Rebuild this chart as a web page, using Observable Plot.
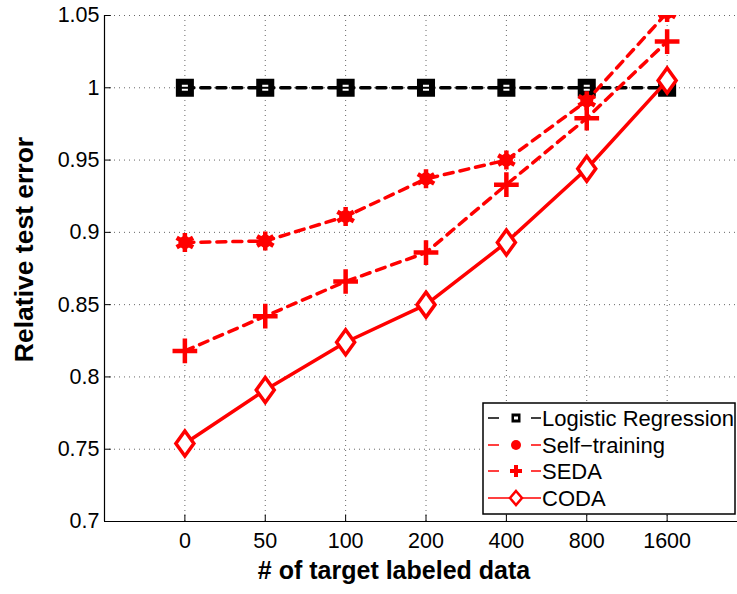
<!DOCTYPE html>
<html><head><meta charset="utf-8">
<script src="https://cdn.jsdelivr.net/npm/d3@7"></script>
<script src="https://cdn.jsdelivr.net/npm/@observablehq/plot@0.6"></script>
<style>body{margin:0;background:#fff} #chart{width:737px;height:594px;overflow:hidden}</style>
</head><body><div id="chart"></div>
<script>
// ---- data ----
const categories = ["0", "50", "100", "200", "400", "800", "1600"];
const logistic = [1, 1, 1, 1, 1, 1, 1];
const selfTraining = [0.893, 0.894, 0.911, 0.937, 0.950, 0.991, 1.052];
const seda = [0.818, 0.842, 0.866, 0.886, 0.933, 0.979, 1.032];
const coda = [0.754, 0.791, 0.824, 0.850, 0.893, 0.944, 1.005];
const yTicks = [0.7, 0.75, 0.8, 0.85, 0.9, 0.95, 1, 1.05];
const seriesNames = ["Logistic Regression", "Self\u2212training", "SEDA", "CODA"];
const yTitle = "Relative test error";
const xTitle = "# of target labeled data";

const idx = categories.map((_, i) => i);
const toRows = vals => vals.map((v, i) => ({i, v}));
const rLog = toRows(logistic), rSelf = toRows(selfTraining), rSeda = toRows(seda), rCoda = toRows(coda);

const tallDiamond = {
  draw(ctx) {
    const w = 9, h = 12.5;
    ctx.moveTo(0, -h); ctx.lineTo(w, 0); ctx.lineTo(0, h); ctx.lineTo(-w, 0); ctx.closePath();
  }
};
const hbar = {
  draw(ctx) { ctx.moveTo(-4, 0); ctx.lineTo(4, 0); }
};

const font = "Liberation Sans, Arial, Helvetica, sans-serif";
const grid = {stroke: "#666", strokeDasharray: "1,4", strokeWidth: 1};

const svg = Plot.plot({
  width: 737, height: 594,
  marginLeft: 104, marginRight: 0, marginTop: 15, marginBottom: 73,
  style: {fontFamily: font, background: "white", color: "black"},
  x: {domain: [-1, 7], range: [104, 747]},
  y: {domain: [0.7, 1.05]},
  marks: [
    Plot.ruleY(yTicks, grid),
    Plot.ruleX(idx, grid),
    Plot.ruleX([-1], {stroke: "black", strokeWidth: 1.2}),
    Plot.ruleY([0.7], {stroke: "black", strokeWidth: 1.2}),
    Plot.ruleY(yTicks, {x1: -1, x2: -1 + 0.085, stroke: "black"}),
    Plot.ruleX(idx, {y1: 0.7, y2: 0.7 + 0.0045, stroke: "black"}),
    Plot.axisY(yTicks, {tickSize: 0, tickPadding: 5, fontSize: 21.5, tickFormat: d => String(d), label: null}),
    Plot.axisX(idx, {tickSize: 0, tickPadding: 11, fontSize: 21.5, tickFormat: i => categories[i], label: null}),
    Plot.text([yTitle], {frameAnchor: "left", textAnchor: "middle", dx: -80, dy: -19, rotate: -90, fontSize: 26.5, fontWeight: "bold"}),
    Plot.text([xTitle], {frameAnchor: "bottom", textAnchor: "middle", dy: 57, dx: -27, fontSize: 25, fontWeight: "bold"}),
    Plot.line(rLog, {x: "i", y: "v", stroke: "black", strokeWidth: 3.5, strokeDasharray: "9,7", clip: true}),
    Plot.dot(rLog, {x: "i", y: "v", symbol: "square", r: 6.8, stroke: "black", strokeWidth: 6, fill: "white", clip: true}),
    Plot.dot(rLog, {x: "i", y: "v", symbol: hbar, r: 5, stroke: "black", strokeWidth: 2, clip: true}),
    Plot.line(rSelf, {x: "i", y: "v", stroke: "red", strokeWidth: 3.5, strokeDasharray: "9,7", clip: true}),
    Plot.dot(rSelf, {x: "i", y: "v", symbol: "asterisk", r: 9, stroke: "red", strokeWidth: 4.5, clip: true}),
    Plot.dot(rSelf, {x: "i", y: "v", r: 6.5, fill: "red", clip: true}),
    Plot.line(rSeda, {x: "i", y: "v", stroke: "red", strokeWidth: 3.5, strokeDasharray: "9,7", clip: true}),
    Plot.dot(rSeda, {x: "i", y: "v", symbol: "plus", r: 8, stroke: "red", strokeWidth: 4.5, clip: true}),
    Plot.line(rCoda, {x: "i", y: "v", stroke: "red", strokeWidth: 3.5, clip: true}),
    Plot.dot(rCoda, {x: "i", y: "v", symbol: tallDiamond, stroke: "red", strokeWidth: 3.5, fill: "white", clip: true})
  ]
});

// ---- legend ----
const g = d3.select(svg).append("g").attr("font-family", font).attr("text-anchor", "start");
g.append("rect").attr("x", 483).attr("y", 403).attr("width", 252).attr("height", 111)
  .attr("fill", "white").attr("stroke", "black").attr("stroke-width", 1.5);
const ys = [418, 445, 471, 498];
seriesNames.forEach((name, k) => {
  const y = ys[k];
  const col = k === 0 ? "black" : "red";
  if (k === 3) {
    g.append("line").attr("x1", 488).attr("x2", 541).attr("y1", y).attr("y2", y).attr("stroke", col).attr("stroke-width", 1.5);
  } else {
    g.append("line").attr("x1", 488).attr("x2", 499).attr("y1", y).attr("y2", y).attr("stroke", col).attr("stroke-width", 1.5);
    g.append("line").attr("x1", 531).attr("x2", 541).attr("y1", y).attr("y2", y).attr("stroke", col).attr("stroke-width", 1.5);
  }
  const cx = 516;
  if (k === 0) {
    g.append("rect").attr("x", cx - 4.5).attr("y", y - 4.5).attr("width", 9).attr("height", 9).attr("fill", "black");
    g.append("rect").attr("x", cx - 2).attr("y", y - 1.5).attr("width", 4).attr("height", 3).attr("fill", "white");
  } else if (k === 1) {
    g.append("circle").attr("cx", cx).attr("cy", y).attr("r", 5).attr("fill", "red");
  } else if (k === 2) {
    g.append("path").attr("d", `M${cx - 6},${y}H${cx + 6}M${cx},${y - 6}V${y + 6}`).attr("stroke", "red").attr("stroke-width", 4);
  } else {
    g.append("path").attr("d", `M${cx},${y - 7}L${cx + 6},${y}L${cx},${y + 7}L${cx - 6},${y}Z`).attr("stroke", "red").attr("stroke-width", 2.5).attr("fill", "white");
  }
  g.append("text").attr("x", 542).attr("y", y).attr("dy", "0.35em").attr("font-size", 22).attr("fill", "black").text(name);
});

document.getElementById("chart").appendChild(svg);
</script>
</body></html>
